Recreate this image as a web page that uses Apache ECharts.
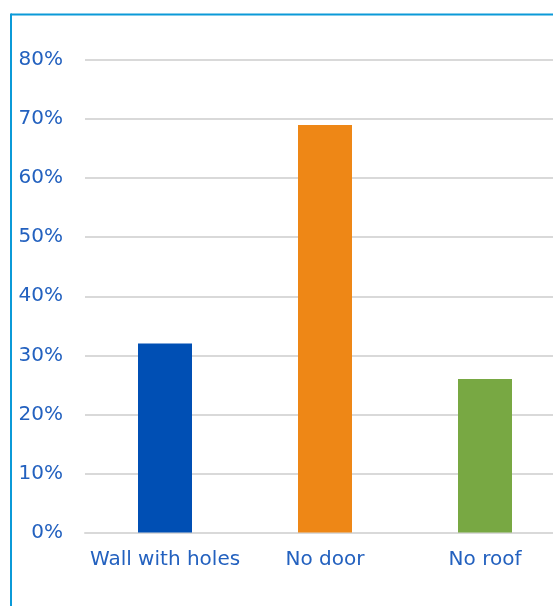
<!DOCTYPE html>
<html>
<head>
<meta charset="utf-8">
<style>
  html, body { margin: 0; padding: 0; background: #ffffff; overflow: hidden; }
  #chart { width: 580px; height: 606px; }
</style>
<script src="https://cdn.jsdelivr.net/npm/echarts@6/dist/echarts.min.js"></script>
</head>
<body>
<div id="chart"></div>
<script>
// Share of dwellings by structural defect
const categories = ['Wall with holes', 'No door', 'No roof'];
const shares = [32, 69, 26];
const barColors = ['#004fb4', '#ee8716', '#78a843'];
const yTicks = [0, 10, 20, 30, 40, 50, 60, 70, 80];

const textColor = '#2361bf';
const frameColor = '#0b9ad8';
const labelFont = '"DejaVu Sans", Verdana, sans-serif';

const chart = echarts.init(document.getElementById('chart'), null, { renderer: 'canvas' });

chart.setOption({
  animation: false,
  grid: { left: 85, top: 60, width: 480, height: 472.5, containLabel: false },
  xAxis: {
    type: 'category',
    data: categories,
    axisLine: { show: true, lineStyle: { color: '#d9d9d9', width: 2 } },
    axisTick: { show: false },
    axisLabel: {
      interval: 0,
      color: textColor,
      fontFamily: labelFont,
      fontSize: 20,
      margin: 17
    }
  },
  yAxis: {
    type: 'value',
    min: yTicks[0],
    max: yTicks[yTicks.length - 1],
    interval: 10,
    axisLine: { show: false },
    axisTick: { show: false },
    splitLine: { lineStyle: { color: '#d9d9d9', width: 2 } },
    axisLabel: {
      color: textColor,
      fontFamily: labelFont,
      fontSize: 20,
      margin: 22,
      formatter: v => v + '%'
    }
  },
  series: [{
    type: 'bar',
    barWidth: 54,
    data: shares.map((v, i) => ({ value: v, itemStyle: { color: barColors[i] } }))
  }],
  graphic: [
    { type: 'line', shape: { x1: 11, y1: 14.5, x2: 553, y2: 14.5 }, style: { stroke: frameColor, lineWidth: 2 }, z: 100 },
    { type: 'line', shape: { x1: 11, y1: 13.5, x2: 11, y2: 606 }, style: { stroke: frameColor, lineWidth: 2 }, z: 100 }
  ]
});
</script>
</body>
</html>
